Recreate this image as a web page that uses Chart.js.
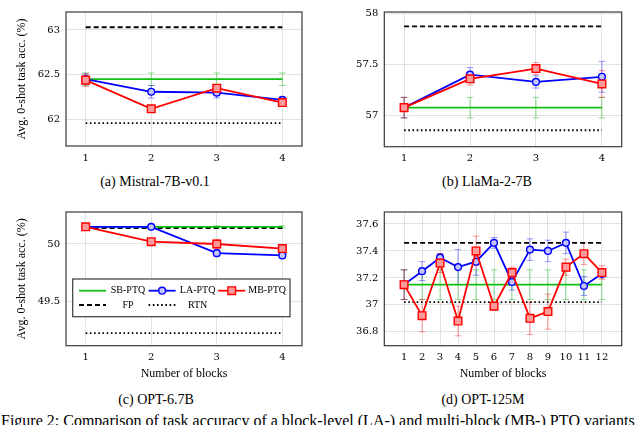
<!DOCTYPE html>
<html>
<head>
<meta charset="utf-8">
<script src="https://cdn.jsdelivr.net/npm/chart.js@4.4.1/dist/chart.umd.min.js"></script>
<style>
  html, body { margin: 0; padding: 0; background: #fff; }
  body { width: 640px; height: 425px; position: relative; overflow: hidden; font-family: "Liberation Serif", serif; color: #000; }
  .panel { position: absolute; }
  .sub { position: absolute; width: 320px; text-align: center; font-size: 14px; line-height: 16px; }
  #caption { position: absolute; left: 1px; top: 413px; font-size: 16px; line-height: 16px; white-space: nowrap; }
</style>
</head>
<body>
<div class="panel" style="left:0;top:0"><canvas id="chart_a" width="320" height="172"></canvas></div>
<div class="panel" style="left:320px;top:0"><canvas id="chart_b" width="320" height="172"></canvas></div>
<div class="panel" style="left:0;top:200px"><canvas id="chart_c" width="320" height="192"></canvas></div>
<div class="panel" style="left:320px;top:200px"><canvas id="chart_d" width="320" height="192"></canvas></div>

<div class="sub" style="left:-5px;top:174px">(a) Mistral-7B-v0.1</div>
<div class="sub" style="left:327px;top:174px">(b) LlaMa-2-7B</div>
<div class="sub" style="left:-4px;top:392px">(c) OPT-6.7B</div>
<div class="sub" style="left:323px;top:392px">(d) OPT-125M</div>
<div id="caption">Figure 2: Comparison of task accuracy of a block-level (LA-) and multi-block (MB-) PTQ variants</div>

<script>
// x values (number of blocks)
const blocks4  = [1, 2, 3, 4];
const blocks12 = [1, 2, 3, 4, 5, 6, 7, 8, 9, 10, 11, 12];

// (a) Mistral-7B-v0.1
const sbA = [62.45, 62.45, 62.45, 62.45];
const sbErrA = [0.07, 0.07, 0.07, 0.07];
const laA = [62.45, 62.31, 62.30, 62.22];
const laErrA = [0.06, 0.07, 0.06, 0.03];
const mbA = [62.44, 62.12, 62.35, 62.19];
const mbErrA = [0.07, 0.03, 0.04, 0.04];
const fpA = 63.03;
const rtnA = 61.96;
const yTicksA = [62, 62.5, 63];

// (b) LlaMa-2-7B
const sbB = [57.08, 57.08, 57.08, 57.08];
const sbErrB = [0.10, 0.10, 0.10, 0.10];
const laB = [57.08, 57.40, 57.33, 57.38];
const laErrB = [0.10, 0.07, 0.06, 0.15];
const mbB = [57.08, 57.36, 57.46, 57.31];
const mbErrB = [0.10, 0.06, 0.06, 0.13];
const fpB = 57.87;
const rtnB = 56.86;
const yTicksB = [57, 57.5, 58];

// (c) OPT-6.7B
const sbC = [50.15, 50.15, 50.15, 50.15];
const sbErrC = [0.01, 0.01, 0.01, 0.01];
const laC = [50.15, 50.15, 49.92, 49.90];
const laErrC = [0.01, 0.01, 0.03, 0.02];
const mbC = [50.15, 50.02, 50.00, 49.96];
const mbErrC = [0.01, 0.02, 0.04, 0.02];
const fpC = 50.14;
const rtnC = 49.22;
const yTicksC = [49.5, 50];

// (d) OPT-125M
const sbD = [37.15, 37.15, 37.15, 37.15, 37.15, 37.15, 37.15, 37.15, 37.15, 37.15, 37.15, 37.15];
const sbErrD = [0.11, 0.11, 0.11, 0.11, 0.11, 0.11, 0.11, 0.11, 0.11, 0.11, 0.11, 0.11];
const laD = [37.15, 37.25, 37.35, 37.28, 37.32, 37.46, 37.17, 37.41, 37.40, 37.46, 37.14, 37.23];
const laErrD = [0.11, 0.07, 0.03, 0.13, 0.10, 0.04, 0.06, 0.08, 0.08, 0.08, 0.07, 0.03];
const mbD = [37.15, 36.92, 37.31, 36.88, 37.40, 36.99, 37.24, 36.90, 36.95, 37.28, 37.38, 37.24];
const mbErrD = [0.11, 0.12, 0.07, 0.11, 0.11, 0.03, 0.04, 0.12, 0.13, 0.06, 0.08, 0.05];
const fpD = 37.46;
const rtnD = 37.02;
const yTicksD = [36.8, 37, 37.2, 37.4, 37.6];

const GREEN = '#12bf12';
const BLUE = '#0000ff';
const RED = '#ff0000';

// vertical error bars drawn through the chart's own scales
const errorBars = {
  id: 'errorBars',
  beforeDatasetsDraw(chart) {
    const { ctx, scales: { y } } = chart;
    ctx.save();
    chart.data.datasets.forEach((ds, i) => {
      if (!ds.errors) return;
      const meta = chart.getDatasetMeta(i);
      ctx.strokeStyle = ds.errorColor;
      ctx.lineWidth = 1;
      meta.data.forEach((pt, j) => {
        const v = ds.data[j].y, e = ds.errors[j];
        const top = y.getPixelForValue(v + e), bot = y.getPixelForValue(v - e);
        ctx.beginPath();
        ctx.moveTo(pt.x, top); ctx.lineTo(pt.x, bot);
        ctx.moveTo(pt.x - 3.3, top); ctx.lineTo(pt.x + 3.3, top);
        ctx.moveTo(pt.x - 3.3, bot); ctx.lineTo(pt.x + 3.3, bot);
        ctx.stroke();
      });
    });
    ctx.restore();
  },
};

// full box around the plot area
const frame = {
  id: 'frame',
  afterDraw(chart) {
    const { ctx, chartArea: a } = chart;
    ctx.save();
    ctx.strokeStyle = '#3a3a3a';
    ctx.lineWidth = 1.2;
    ctx.strokeRect(a.left, a.top, a.right - a.left, a.bottom - a.top);
    ctx.restore();
  },
};

// pgfplots-style legend box inside the plot (panel c only)
const boxLegend = {
  id: 'boxLegend',
  afterDraw(chart, args, opts) {
    if (!opts.box) return;
    const { ctx } = chart;
    const [x0, y0, x1, y1] = opts.box;
    ctx.save();
    ctx.fillStyle = '#fff';
    ctx.fillRect(x0, y0, x1 - x0, y1 - y0);
    ctx.strokeStyle = '#3a3a3a';
    ctx.lineWidth = 1.2;
    ctx.strokeRect(x0, y0, x1 - x0, y1 - y0);
    chart.data.datasets.forEach((ds, i) => {
      const col = i % 3, row = Math.floor(i / 3);
      const sx = x0 + 6.3 + col * 69.6;
      const sy = y0 + 11.7 + row * 14.3;
      ctx.strokeStyle = ds.borderColor;
      ctx.lineWidth = ds.borderWidth;
      ctx.setLineDash(ds.borderDash || []);
      ctx.beginPath(); ctx.moveTo(sx, sy); ctx.lineTo(sx + 27, sy); ctx.stroke();
      ctx.setLineDash([]);
      if (ds.pointRadius > 0) {
        ctx.fillStyle = ds.pointBackgroundColor;
        ctx.strokeStyle = ds.borderColor;
        ctx.lineWidth = ds.pointBorderWidth;
        Chart.helpers.drawPoint(ctx, { pointStyle: ds.pointStyle, radius: ds.pointRadius, borderWidth: ds.pointBorderWidth }, sx + 13.5, sy);
      }
      ctx.fillStyle = '#000';
      ctx.font = '10px "Liberation Serif"';
      ctx.textAlign = 'center';
      ctx.textBaseline = 'middle';
      ctx.fillText(ds.label, sx + 49, sy);
    });
    ctx.restore();
  },
};

function pts(xs, ys) {
  return xs.map((x, i) => ({ x, y: ys[i] }));
}

function flat(xs, v) {
  return [{ x: xs[0], y: v }, { x: xs[xs.length - 1], y: v }];
}

function makePanel(id, p) {
  const ctx = document.getElementById(id)?.getContext('2d');
  if (!ctx) return;
  const w = ctx.canvas.width, h = ctx.canvas.height;
  const datasets = [
    { label: 'SB-PTQ', data: pts(p.xs, p.sb), errors: p.sbErr, errorColor: 'rgba(18,191,18,0.45)',
      borderColor: GREEN, borderWidth: 1.8, pointRadius: 0, order: 2 },
    { label: 'LA-PTQ', data: pts(p.xs, p.la), errors: p.laErr, errorColor: 'rgba(0,0,255,0.4)',
      borderColor: BLUE, borderWidth: 1.8, pointStyle: 'circle', pointRadius: 3.4, pointBorderWidth: 1.4,
      pointBackgroundColor: '#c4c4ff', pointBorderColor: BLUE, order: 1 },
    { label: 'MB-PTQ', data: pts(p.xs, p.mb), errors: p.mbErr, errorColor: 'rgba(255,0,0,0.4)',
      borderColor: RED, borderWidth: 1.8, pointStyle: 'rect', pointRadius: 5.4, pointBorderWidth: 1.4,
      pointBackgroundColor: '#ff9a9a', pointBorderColor: RED, order: 0 },
    { label: 'FP', data: flat(p.xs, p.fp), borderColor: '#000', borderWidth: 1.9,
      borderDash: [5, 3], pointRadius: 0, order: 3 },
    { label: 'RTN', data: flat(p.xs, p.rtn), borderColor: '#000', borderWidth: 1.9,
      borderDash: [1.6, 2.6], pointRadius: 0, order: 4 },
  ];
  const tickFont = { family: 'DejaVu Serif', size: 10 };
  const titleFont = { family: 'Liberation Serif', size: 12 };
  return new Chart(ctx, {
    type: 'line',
    data: { datasets },
    plugins: [errorBars, frame, boxLegend],
    options: {
      responsive: false,
      animation: false,
      events: [],
      layout: { padding: { left: 0, top: p.area[2], right: w - p.area[1], bottom: 0 } },
      scales: {
        x: {
          type: 'linear',
          min: p.xMin, max: p.xMax,
          afterBuildTicks: (s) => { s.ticks = p.xs.map((v) => ({ value: v })); },
          afterFit: (s) => { s.height = h - p.area[3]; },
          ticks: { font: tickFont, color: '#000', padding: 6, maxRotation: 0, callback: (v) => String(v) },
          grid: { color: '#dadada', lineWidth: 0.8, drawTicks: false },
          border: { display: false },
          title: { display: !!p.xTitle, text: p.xTitle || '', font: titleFont, color: '#000', padding: { top: 0, bottom: 11 } },
        },
        y: {
          min: p.yMin, max: p.yMax,
          afterBuildTicks: (s) => { s.ticks = p.yTicks.map((v) => ({ value: v })); },
          afterFit: (s) => { s.width = p.area[0]; },
          ticks: { font: tickFont, color: '#000', padding: 6, callback: (v) => String(v) },
          grid: { color: '#dadada', lineWidth: 0.8, drawTicks: false },
          border: { display: false },
          title: { display: !!p.yTitle, text: p.yTitle || '', font: titleFont, color: '#000', padding: { top: 15, bottom: 0 } },
        },
      },
      plugins: {
        legend: { display: false },
        tooltip: { enabled: false },
        boxLegend: { box: p.legendBox || null },
      },
    },
  });
}

window.addEventListener('load', () => {
  const yLabel = 'Avg. 0-shot task acc. (%)';
  const xLabel = 'Number of blocks';

  makePanel('chart_a', {
    xs: blocks4, sb: sbA, sbErr: sbErrA, la: laA, laErr: laErrA, mb: mbA, mbErr: mbErrA, fp: fpA, rtn: rtnA,
    yTicks: yTicksA, xMin: 0.7, xMax: 4.3, yMin: 61.705, yMax: 63.2,
    area: [66, 302, 4, 146], yTitle: yLabel,
  });
  makePanel('chart_b', {
    xs: blocks4, sb: sbB, sbErr: sbErrB, la: laB, laErr: laErrB, mb: mbB, mbErr: mbErrB, fp: fpB, rtn: rtnB,
    yTicks: yTicksB, xMin: 0.7, xMax: 4.3, yMin: 56.7, yMax: 58.01,
    area: [64.3, 301.7, 4, 146.7],
  });
  makePanel('chart_c', {
    xs: blocks4, sb: sbC, sbErr: sbErrC, la: laC, laErr: laErrC, mb: mbC, mbErr: mbErrC, fp: fpC, rtn: rtnC,
    yTicks: yTicksC, xMin: 0.7, xMax: 4.3, yMin: 49.11, yMax: 50.28,
    area: [66, 302, 4, 145.7], yTitle: yLabel, xTitle: xLabel,
    legendBox: [72.7, 79, 290, 116.7],
  });
  makePanel('chart_d', {
    xs: blocks12, sb: sbD, sbErr: sbErrD, la: laD, laErr: laErrD, mb: mbD, mbErr: mbErrD, fp: fpD, rtn: rtnD,
    yTicks: yTicksD, xMin: -0.1, xMax: 13.1, yMin: 36.697, yMax: 37.689,
    area: [64.3, 301.7, 4, 145.7], xTitle: xLabel,
  });
});
</script>
</body>
</html>
